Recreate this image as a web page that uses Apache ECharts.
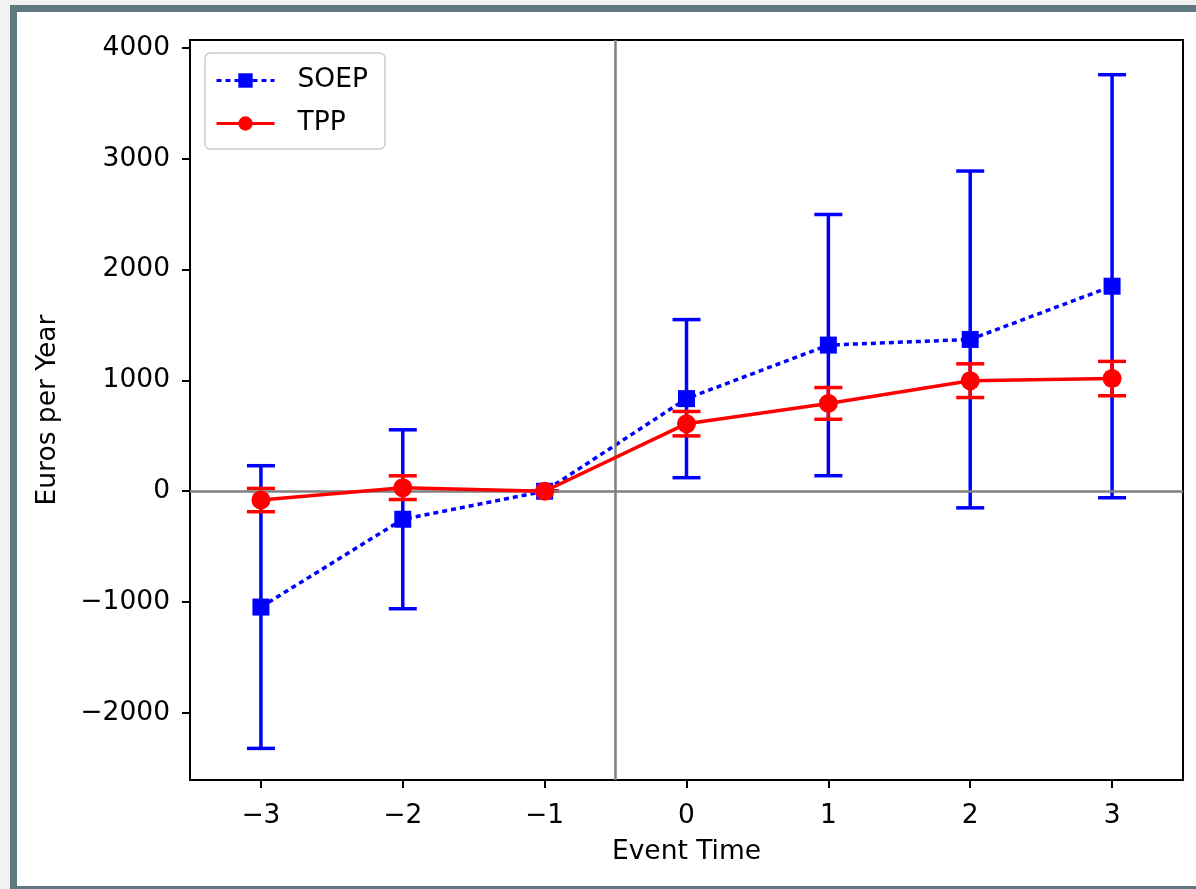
<!DOCTYPE html>
<html>
<head>
<meta charset="utf-8">
<script src="https://cdn.jsdelivr.net/npm/echarts@6/dist/echarts.min.js"></script>
<style>
  html, body { margin: 0; padding: 0; background: #f2f2f2; overflow: hidden; }
  #frame {
    position: absolute; left: 10px; top: 5px; right: -10px; bottom: -10px;
    border: 7px solid #5f7882; border-bottom-width: 13px; background: #ffffff;
  }
  #main { position: absolute; left: 0; top: 0; width: 1196px; height: 889px; }
</style>
</head>
<body>
<div id="frame"></div>
<div id="main"></div>
<script>
// event time on x axis
var eventTime = [-3, -2, -1, 0, 1, 2, 3]
// SOEP estimates and half-width of the error bars
var soepMean = [-1045, -253, 0, 835, 1318, 1369, 1849]
var soepErr = [1275, 807, 0, 713, 1178, 1519, 1908]
// TPP estimates and half-width of the error bars
var tppMean = [-80, 32, 0, 609, 792, 997, 1016]
var tppErr = [105, 107, 0, 110, 143, 152, 155]
// tick labels
var xTicks = [-3, -2, -1, 0, 1, 2, 3]
var yTicks = [-2000, -1000, 0, 1000, 2000, 3000, 4000]

var font = 'DejaVu Sans'
var fontSize = 26.5

function pairs(xs, ys) {
  return xs.map(function (x, i) { return [x, ys[i]] })
}
function bars(xs, ys, es) {
  return xs.map(function (x, i) { return [x, ys[i] - es[i], ys[i] + es[i]] })
}
function minusSign(v) {
  return String(v).replace('-', '\u2212')
}

// error bar drawn with the axis scales
function errorBar(color) {
  return function (params, api) {
    var x = api.value(0)
    var lo = api.coord([x, api.value(1)])
    var hi = api.coord([x, api.value(2)])
    var half = 14
    var style = { stroke: color, lineWidth: 3.5 }
    return {
      type: 'group',
      children: [
        { type: 'line', shape: { x1: lo[0], y1: lo[1], x2: hi[0], y2: hi[1] }, style: style },
        { type: 'line', shape: { x1: lo[0] - half, y1: lo[1], x2: lo[0] + half, y2: lo[1] }, style: style },
        { type: 'line', shape: { x1: hi[0] - half, y1: hi[1], x2: hi[0] + half, y2: hi[1] }, style: style }
      ]
    }
  }
}

var myChart = echarts.init(document.getElementById('main'))
myChart.setOption({
  animation: false,
  backgroundColor: 'transparent',
  textStyle: { fontFamily: font },
  grid: {
    left: 190, top: 40, right: 13, bottom: 109,
    show: true, borderColor: '#000000', borderWidth: 2, backgroundColor: 'transparent'
  },
  legend: {
    left: 205, top: 53,
    orient: 'vertical',
    data: ['SOEP', 'TPP'],
    itemWidth: 58, itemHeight: 18, itemGap: 16,
    padding: [14, 17, 12, 10],
    lineStyle: { width: 3 },
    backgroundColor: 'rgba(255,255,255,0.8)',
    borderColor: '#cccccc', borderWidth: 1.5, borderRadius: 5,
    textStyle: { fontFamily: font, fontSize: fontSize, color: '#000000', padding: [0, 0, 0, 18] }
  },
  xAxis: {
    type: 'value', min: -3.5, max: 3.5,
    name: 'Event Time', nameLocation: 'middle', nameGap: 59,
    nameTextStyle: { fontFamily: font, fontSize: fontSize, color: '#000000' },
    axisLine: { show: false, onZero: false },
    axisTick: { show: true, length: 8, customValues: xTicks, lineStyle: { color: '#000000', width: 2 } },
    axisLabel: { customValues: xTicks, margin: 23, fontFamily: font, fontSize: fontSize, color: '#000000', formatter: minusSign },
    splitLine: { show: false }
  },
  yAxis: {
    type: 'value', min: -2605, max: 4070,
    name: 'Euros per Year', nameLocation: 'middle', nameGap: 128,
    nameTextStyle: { fontFamily: font, fontSize: fontSize, color: '#000000' },
    axisLine: { show: false, onZero: false },
    axisTick: { show: true, length: 8, customValues: yTicks, lineStyle: { color: '#000000', width: 2 } },
    axisLabel: { customValues: yTicks, margin: 20, fontFamily: font, fontSize: fontSize, color: '#000000', formatter: minusSign },
    splitLine: { show: false }
  },
  series: [
    {
      // reference lines
      type: 'line', data: [], z: 1, silent: true,
      markLine: {
        symbol: 'none', silent: true, label: { show: false },
        lineStyle: { color: '#808080', width: 2.5, type: 'solid' },
        data: [{ xAxis: -0.5 }, { yAxis: 0 }]
      }
    },
    {
      type: 'custom', name: 'SOEP err', z: 2,
      renderItem: errorBar('#0000ff'),
      encode: { x: 0, y: [1, 2] },
      data: bars(eventTime, soepMean, soepErr)
    },
    {
      type: 'line', name: 'SOEP', z: 3,
      data: pairs(eventTime, soepMean),
      symbol: 'rect', symbolSize: 17,
      itemStyle: { color: '#0000ff' },
      lineStyle: { color: '#0000ff', width: 3.5, type: [5, 4] }
    },
    {
      type: 'custom', name: 'TPP err', z: 4,
      renderItem: errorBar('#ff0000'),
      encode: { x: 0, y: [1, 2] },
      data: bars(eventTime, tppMean, tppErr)
    },
    {
      type: 'line', name: 'TPP', z: 5,
      data: pairs(eventTime, tppMean),
      symbol: 'circle', symbolSize: 19,
      itemStyle: { color: '#ff0000' },
      lineStyle: { color: '#ff0000', width: 3.5 }
    }
  ]
})

window.addEventListener('resize', function () {
  myChart.resize()
})
</script>
</body>
</html>
